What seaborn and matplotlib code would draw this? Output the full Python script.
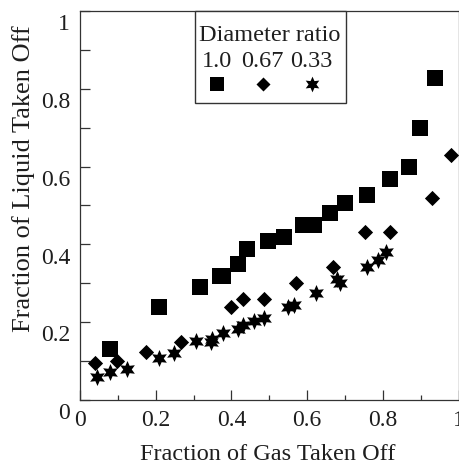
import matplotlib
matplotlib.use("Agg")
import matplotlib.pyplot as plt
import matplotlib.transforms as mtransforms
from matplotlib.patches import Rectangle
from matplotlib.ticker import MultipleLocator, FuncFormatter
import pandas as pd
import seaborn as sns

# Diameter ratio 1.0 (squares)
gas_100 = [0.079, 0.209, 0.318, 0.369, 0.378, 0.418, 0.440, 0.497, 0.538,
           0.589, 0.619, 0.660, 0.700, 0.759, 0.818, 0.868, 0.899, 0.939]
liq_100 = [0.131, 0.240, 0.290, 0.319, 0.319, 0.350, 0.389, 0.410, 0.419,
           0.449, 0.449, 0.480, 0.507, 0.527, 0.567, 0.598, 0.698, 0.829]

# Diameter ratio 0.67 (diamonds)
gas_067 = [0.039, 0.098, 0.175, 0.268, 0.399, 0.430, 0.485, 0.570, 0.669,
           0.753, 0.820, 0.930, 0.981]
liq_067 = [0.094, 0.100, 0.124, 0.150, 0.238, 0.259, 0.260, 0.302, 0.341,
           0.432, 0.432, 0.518, 0.630]

# Diameter ratio 0.33 (stars)
gas_033 = [0.046, 0.079, 0.125, 0.210, 0.248, 0.307, 0.345, 0.350, 0.377,
           0.418, 0.430, 0.461, 0.487, 0.550, 0.565, 0.623, 0.680, 0.688,
           0.759, 0.788, 0.809]
liq_033 = [0.060, 0.071, 0.079, 0.109, 0.120, 0.152, 0.150, 0.158, 0.171,
           0.182, 0.192, 0.204, 0.210, 0.240, 0.243, 0.274, 0.310, 0.300,
           0.341, 0.360, 0.381]

ratio_labels = ["1.0", "0.67", "0.33"]

df = pd.concat([
    pd.DataFrame({"gas": gas_100, "liquid": liq_100, "ratio": "1.0"}),
    pd.DataFrame({"gas": gas_067, "liquid": liq_067, "ratio": "0.67"}),
    pd.DataFrame({"gas": gas_033, "liquid": liq_033, "ratio": "0.33"}),
], ignore_index=True)

sns.set_theme(style="white")
plt.rcParams["font.family"] = ["Liberation Serif", "DejaVu Serif"]
plt.rcParams["text.color"] = "#1e1e1e"
plt.rcParams["axes.labelcolor"] = "#1e1e1e"
plt.rcParams["xtick.color"] = "#333333"
plt.rcParams["ytick.color"] = "#333333"
plt.rcParams["xtick.labelcolor"] = "#1e1e1e"
plt.rcParams["ytick.labelcolor"] = "#1e1e1e"

fig = plt.figure(figsize=(4.59, 4.69), dpi=100)
ax = fig.add_axes([80 / 459, 69 / 469, 378.5 / 459, 389 / 469])

hexagram = (6, 1, 0)
marker_of = {"1.0": "s", "0.67": "D", "0.33": hexagram}
size_of = {"1.0": 128, "0.67": 60, "0.33": 150}

for lab in ratio_labels:
    sub = df[df["ratio"] == lab]
    sns.scatterplot(data=sub, x="gas", y="liquid", marker=marker_of[lab],
                    s=size_of[lab], color="black", linewidth=0, ax=ax,
                    legend=False, zorder=4)

ax.set_xlim(0, 1)
ax.set_ylim(0, 1)
fmt = FuncFormatter(lambda v, p: "%g" % round(v, 2))
ax.xaxis.set_major_locator(MultipleLocator(0.2))
ax.xaxis.set_minor_locator(MultipleLocator(0.1))
ax.yaxis.set_major_locator(MultipleLocator(0.2))
ax.yaxis.set_minor_locator(MultipleLocator(0.1))
ax.xaxis.set_major_formatter(fmt)
ax.yaxis.set_major_formatter(fmt)

ax.tick_params(axis="both", which="both", direction="in", labelsize=17,
               bottom=True, left=True, top=False, right=False, width=0.9)
ax.tick_params(axis="x", which="major", length=7.2, pad=7)
ax.tick_params(axis="x", which="minor", length=3.6)
ax.tick_params(axis="y", which="both", length=7.2, pad=7)

for side, sp in ax.spines.items():
    sp.set_visible(True)
    sp.set_color("#333333")
    sp.set_linewidth(0.9)

ax.set_xlabel("Fraction of Gas Taken Off", fontsize=17.5, va="center")
ax.xaxis.set_label_coords(0.497, -0.141)
ax.set_ylabel("Fraction of Liquid Taken Off", fontsize=19, va="center",
              ha="center")
ax.yaxis.set_label_coords(-0.148, 0.569)

# Key box at the top of the plot
ax.add_patch(Rectangle((0.303, 0.763), 0.399, 0.237, facecolor="white",
                       edgecolor="#333333", linewidth=1.0, zorder=5,
                       clip_on=False))
ax.text(0.5, 0.938, "Diameter ratio", ha="center", va="center",
        fontsize=17.5, zorder=6)
key_x = [0.363, 0.483, 0.612]
for kx, lab in zip(key_x, ratio_labels):
    ax.text(kx, 0.869, lab, ha="center", va="center", fontsize=17.5, zorder=6)
    ax.scatter([kx], [0.812], marker=marker_of[lab], s=size_of[lab] * 0.85,
               color="black", linewidth=0, zorder=6)

# y tick labels sit slightly below their ticks
shift = mtransforms.ScaledTranslation(0, -8 / 72, fig.dpi_scale_trans)
for lbl in ax.get_yticklabels():
    lbl.set_transform(lbl.get_transform() + shift)

fig.savefig("out.png", dpi=100, facecolor="white")
